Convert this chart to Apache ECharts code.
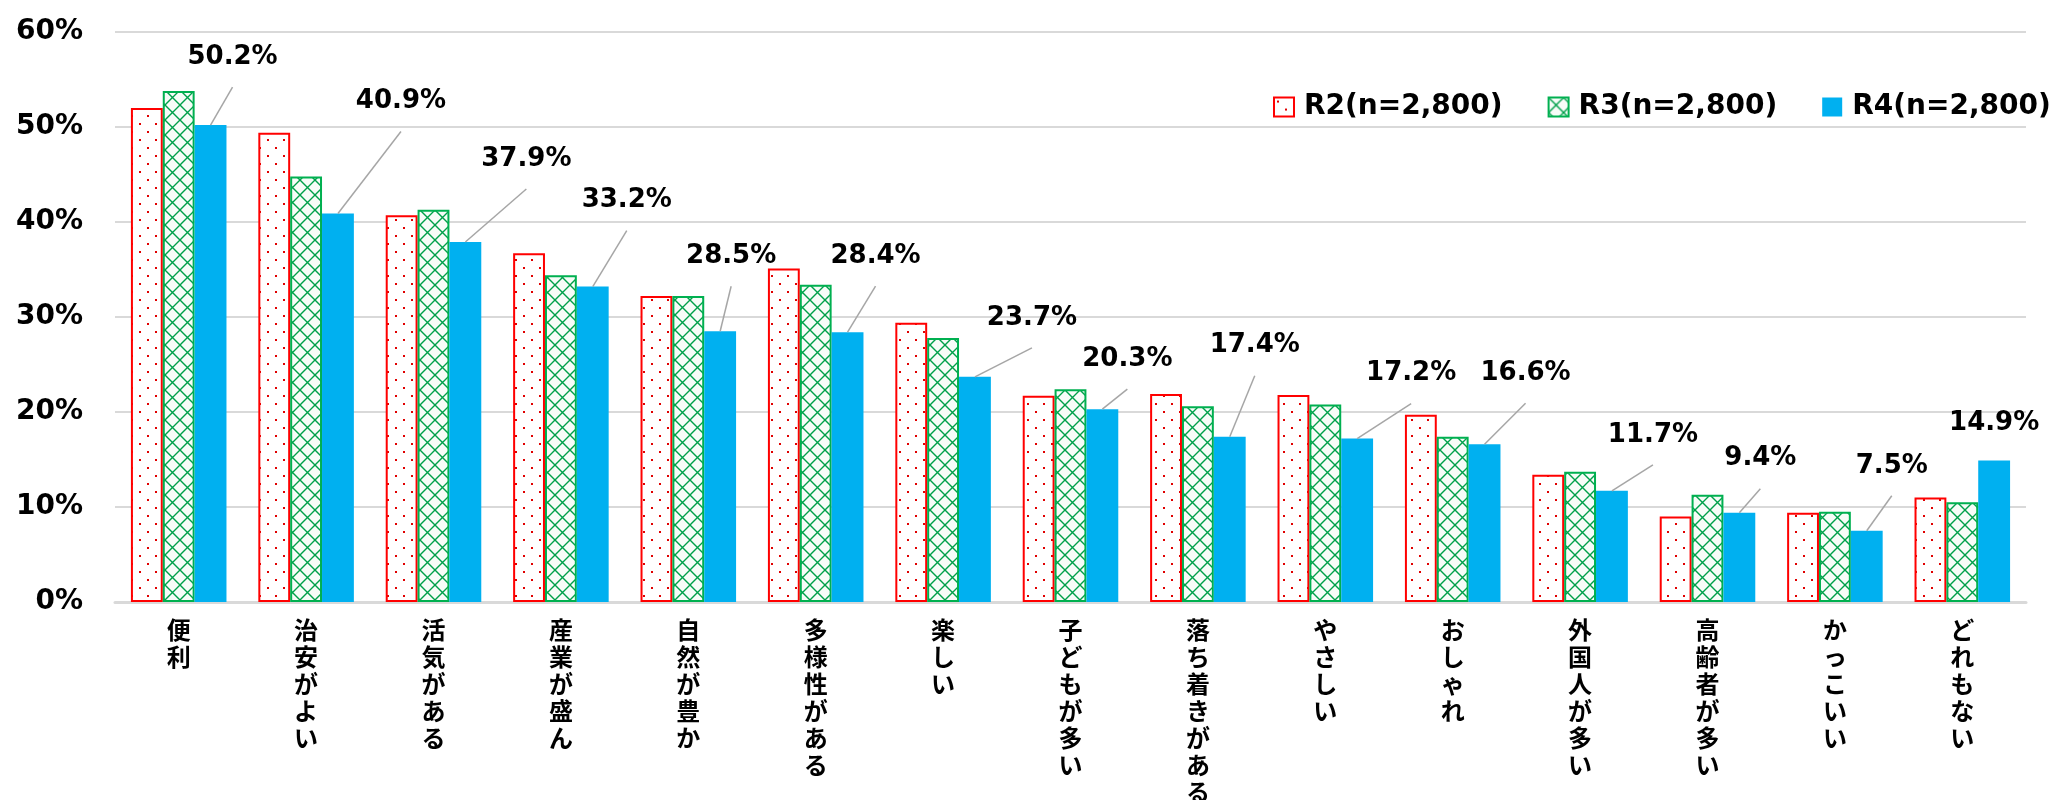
<!DOCTYPE html>
<html>
<head>
<meta charset="utf-8">
<script src="https://cdn.jsdelivr.net/npm/echarts@6/dist/echarts.min.js"></script>
<style>
  html, body { margin: 0; padding: 0; background: #fff; }
  #chart { width: 2056px; height: 800px; }
</style>
</head>
<body>
<div id="chart"></div>
<script>
// data
var categories = ['便利', '治安がよい', '活気がある', '産業が盛ん', '自然が豊か', '多様性がある', '楽しい',
  '子どもが多い', '落ち着きがある', 'やさしい', 'おしゃれ', '外国人が多い', '高齢者が多い', 'かっこいい', 'どれもない'];
var seriesNames = ['R2(n=2,800)', 'R3(n=2,800)', 'R4(n=2,800)'];
var r2Values = [52.0, 49.4, 40.7, 36.7, 32.2, 35.1, 29.4, 21.7, 21.9, 21.8, 19.7, 13.4, 9.0, 9.4, 11.0];
var r3Values = [53.8, 44.8, 41.3, 34.4, 32.2, 33.4, 27.8, 22.4, 20.6, 20.8, 17.4, 13.7, 11.3, 9.5, 10.5];
var r4Values = [50.2, 40.9, 37.9, 33.2, 28.5, 28.4, 23.7, 20.3, 17.4, 17.2, 16.6, 11.7, 9.4, 7.5, 14.9];
var yTicks = { min: 0, max: 60, interval: 10 };

// where the R4 callouts sit, relative to the bar top (dx, dy); last one has no leader line
var calloutOffsets = [[22, -68], [63, -112], [61, -83], [34, -86], [11, -75], [28, -76], [57, -59],
  [25, -50], [25, -91], [54, -65], [41, -71], [41, -56], [21, -54], [25, -65], [0, -37]];
var leaderShown = [1, 1, 1, 1, 1, 1, 1, 1, 1, 1, 1, 1, 1, 1, 0];

var FONT = "'DejaVu Sans', 'Noto Sans CJK JP', sans-serif";
var CJK = "'Noto Sans CJK JP', sans-serif";
var BAR_GAP = 0.25; // share of a category left empty

function dotPattern() {
  var c = document.createElement('canvas');
  c.width = 16; c.height = 16;
  var ctx = c.getContext('2d');
  ctx.fillStyle = '#ffffff';
  ctx.fillRect(0, 0, 16, 16);
  ctx.fillStyle = '#e00000';
  ctx.fillRect(3, 3, 2, 2);
  ctx.fillRect(11, 11, 2, 2);
  return c;
}

function latticePattern() {
  var s = 15;
  var c = document.createElement('canvas');
  c.width = s; c.height = s;
  var ctx = c.getContext('2d');
  ctx.fillStyle = '#f7fcf8';
  ctx.fillRect(0, 0, s, s);
  ctx.strokeStyle = '#00a04a';
  ctx.lineWidth = 1.4;
  ctx.beginPath();
  ctx.moveTo(0, 0); ctx.lineTo(s, s);
  ctx.moveTo(s, 0); ctx.lineTo(0, s);
  ctx.stroke();
  return c;
}

// leader line: from just under the callout text down to the top centre of the R4 bar
function renderLeader(params, api) {
  var i = api.value(0);
  if (!leaderShown[i]) return null;
  var top = api.coord([i, api.value(1)]);
  var band = api.size([1, 0])[0];
  var x = top[0] + band * (1 - BAR_GAP) / 3; // third bar of the group
  var o = calloutOffsets[i];
  return {
    type: 'line',
    shape: { x1: x + o[0], y1: top[1] + o[1] + 30, x2: x, y2: top[1] },
    style: { stroke: '#a6a6a6', lineWidth: 1.5 },
    silent: true
  };
}

var chart = echarts.init(document.getElementById('chart'));

var option = {
  animation: false,
  backgroundColor: '#ffffff',
  grid: { left: 115, right: 30, top: 32, bottom: 198, containLabel: false, outerBoundsMode: 'none' },
  legend: {
    left: 1268,
    top: 88,
    width: 800,
    itemWidth: 20,
    itemHeight: 19,
    itemGap: 45,
    icon: 'rect',
    textStyle: { fontFamily: FONT, fontWeight: 'bold', fontSize: 28, color: '#000', padding: [0, 0, 0, 5] },
    data: seriesNames
  },
  xAxis: {
    type: 'category',
    data: categories,
    axisTick: { show: false },
    axisLine: { lineStyle: { color: '#d9d9d9', width: 3 } },
    axisLabel: {
      interval: 0,
      margin: 14,
      verticalAlign: 'top',
      fontFamily: CJK,
      fontWeight: 'bold',
      fontSize: 24,
      lineHeight: 27,
      color: '#000',
      formatter: function (v) { return v.split('').join('\n'); }
    }
  },
  yAxis: {
    type: 'value',
    min: yTicks.min,
    max: yTicks.max,
    interval: yTicks.interval,
    axisLine: { show: false },
    axisTick: { show: false },
    splitLine: { lineStyle: { color: '#d9d9d9', width: 2 } },
    axisLabel: {
      margin: 32,
      fontFamily: FONT,
      fontWeight: 'bold',
      fontSize: 28,
      color: '#000',
      formatter: '{value}%'
    }
  },
  series: [
    {
      name: seriesNames[0],
      type: 'bar',
      barGap: '0%',
      barCategoryGap: (BAR_GAP * 100) + '%',
      data: r2Values,
      itemStyle: { color: { image: dotPattern(), repeat: 'repeat' }, borderColor: '#ff0000', borderWidth: 2 }
    },
    {
      name: seriesNames[1],
      type: 'bar',
      data: r3Values,
      itemStyle: { color: { image: latticePattern(), repeat: 'repeat' }, borderColor: '#00b050', borderWidth: 2 }
    },
    {
      name: seriesNames[2],
      type: 'bar',
      data: r4Values,
      itemStyle: { color: '#00b0f0' },
      label: {
        show: true,
        position: 'top',
        fontFamily: FONT,
        fontWeight: 'bold',
        fontSize: 26,
        color: '#000',
        formatter: function (p) { return p.value.toFixed(1) + '%'; }
      },
      labelLayout: function (params) {
        var o = calloutOffsets[params.dataIndex];
        return {
          x: params.rect.x + params.rect.width / 2 + o[0],
          y: params.rect.y + o[1],
          align: 'center',
          verticalAlign: 'middle'
        };
      }
    },
    {
      name: 'leaders',
      type: 'custom',
      renderItem: renderLeader,
      data: r4Values.map(function (v, i) { return [i, v]; }),
      z: 3
    }
  ]
};

chart.setOption(option);
</script>
</body>
</html>
